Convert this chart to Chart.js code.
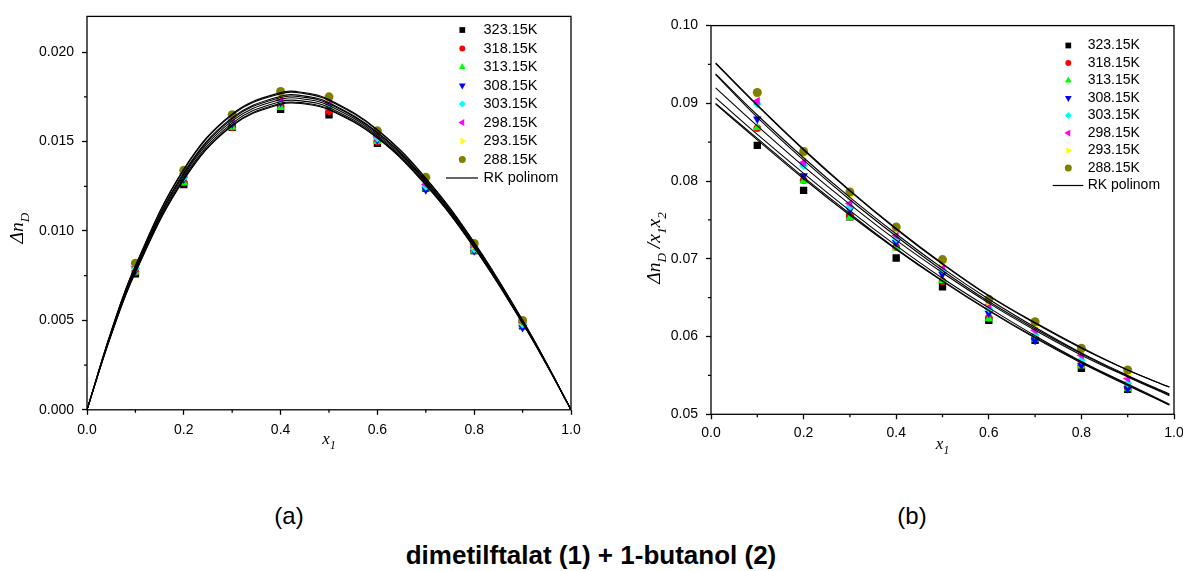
<!DOCTYPE html>
<html>
<head>
<meta charset="utf-8">
<script src="https://cdn.jsdelivr.net/npm/chart.js@4.4.1/dist/chart.umd.min.js"></script>
<style>
  html, body { margin: 0; padding: 0; background: #fff; overflow: hidden; width: 1183px; height: 571px; }
  canvas { position: absolute; top: 0; }
  #chartA { left: 0; }
  #chartB { left: 620px; }
  .lbl { position: absolute; font-family: "Liberation Sans", Arial, sans-serif; font-size: 24px; color: #000; transform: translate(-50%, -50%); white-space: nowrap; }
  #titulo { font-weight: bold; font-size: 26px; }
</style>
</head>
<body>
<canvas id="chartA" width="600" height="460"></canvas>
<canvas id="chartB" width="580" height="460"></canvas>
<div class="lbl" style="left:289px; top:516px;">(a)</div>
<div class="lbl" style="left:912px; top:516px;">(b)</div>
<div class="lbl" id="titulo" style="left:591px; top:555px;">dimetilftalat (1) + 1-butanol (2)</div>
<script>
// temperaturas (legenda)
const TEMPS = ['323.15K', '318.15K', '313.15K', '308.15K', '303.15K', '298.15K', '293.15K', '288.15K'];

// frações molares medidas
const X_OBS = [0.1, 0.2, 0.3, 0.4, 0.5, 0.6, 0.7, 0.8, 0.9];

// (a) Δn_D medido
const DN_OBS = [
  [0.0076, 0.0126, 0.0158, 0.0168, 0.0165, 0.0149, 0.0124, 0.0089, 0.0047],
  [0.0077, 0.0127, 0.0158, 0.0170, 0.0167, 0.0150, 0.0125, 0.0089, 0.0048],
  [0.0077, 0.0127, 0.0158, 0.0169, 0.0169, 0.0150, 0.0124, 0.0089, 0.0047],
  [0.0078, 0.0129, 0.0160, 0.0172, 0.0170, 0.0151, 0.0123, 0.0089, 0.0046],
  [0.0079, 0.0130, 0.0161, 0.0173, 0.0171, 0.0152, 0.0125, 0.0090, 0.0048],
  [0.0080, 0.0132, 0.0162, 0.0174, 0.0172, 0.0153, 0.0126, 0.0091, 0.0049],
  [0.0081, 0.0133, 0.0164, 0.0176, 0.0174, 0.0155, 0.0129, 0.0092, 0.0050],
  [0.0082, 0.0134, 0.0165, 0.0178, 0.0175, 0.0156, 0.0130, 0.0093, 0.0050]
];

// (a) curvas RK
const X_FIT_A = [0, 0.05, 0.1, 0.2, 0.3, 0.4, 0.45, 0.5, 0.6, 0.7, 0.8, 0.9, 0.95, 1];
const DN_FIT = [
  [0, 0.00418, 0.00768, 0.01285, 0.01588, 0.01709, 0.01710, 0.01678, 0.01519, 0.01256, 0.00906, 0.00483, 0.00249, 0],
  [0, 0.00419, 0.00771, 0.01290, 0.01593, 0.01714, 0.01715, 0.01682, 0.01523, 0.01259, 0.00908, 0.00485, 0.00250, 0],
  [0, 0.00423, 0.00777, 0.01299, 0.01603, 0.01724, 0.01725, 0.01691, 0.01530, 0.01265, 0.00913, 0.00487, 0.00251, 0],
  [0, 0.00427, 0.00784, 0.01310, 0.01616, 0.01736, 0.01737, 0.01702, 0.01539, 0.01273, 0.00918, 0.00491, 0.00253, 0],
  [0, 0.00431, 0.00791, 0.01320, 0.01627, 0.01746, 0.01747, 0.01711, 0.01547, 0.01279, 0.00923, 0.00494, 0.00255, 0],
  [0, 0.00433, 0.00795, 0.01327, 0.01634, 0.01754, 0.01754, 0.01717, 0.01552, 0.01283, 0.00927, 0.00496, 0.00256, 0],
  [0, 0.00438, 0.00804, 0.01341, 0.01649, 0.01768, 0.01768, 0.01730, 0.01563, 0.01293, 0.00934, 0.00500, 0.00258, 0],
  [0, 0.00440, 0.00807, 0.01346, 0.01655, 0.01774, 0.01773, 0.01735, 0.01567, 0.01296, 0.00936, 0.00501, 0.00259, 0]
];

// (b) Δn_D / x1x2 medido
const RED_OBS = [
  [0.0846, 0.0788, 0.0754, 0.0701, 0.0664, 0.0621, 0.0595, 0.0559, 0.0532],
  [0.0868, 0.0801, 0.0755, 0.0715, 0.0671, 0.0624, 0.0597, 0.0563, 0.0534],
  [0.0869, 0.0800, 0.0753, 0.0714, 0.0672, 0.0623, 0.0597, 0.0562, 0.0533],
  [0.0880, 0.0807, 0.0763, 0.0721, 0.0680, 0.0630, 0.0595, 0.0563, 0.0533],
  [0.0899, 0.0820, 0.0767, 0.0726, 0.0686, 0.0636, 0.0602, 0.0570, 0.0540],
  [0.0903, 0.0824, 0.0771, 0.0730, 0.0691, 0.0641, 0.0608, 0.0576, 0.0546],
  [0.0912, 0.0834, 0.0781, 0.0737, 0.0695, 0.0645, 0.0614, 0.0582, 0.0552],
  [0.0914, 0.0838, 0.0786, 0.0741, 0.0699, 0.0648, 0.0619, 0.0585, 0.0557]
];

// (b) curvas RK
const X_FIT_B = [0.01, 0.1, 0.2, 0.3, 0.4, 0.5, 0.6, 0.7, 0.8, 0.9, 0.99];
const RED_FIT = [
  [0.0899, 0.0853, 0.0803, 0.0756, 0.0712, 0.0671, 0.0633, 0.0598, 0.0566, 0.0537, 0.0512],
  [0.0900, 0.0855, 0.0805, 0.0758, 0.0713, 0.0672, 0.0634, 0.0599, 0.0567, 0.0538, 0.0512],
  [0.0907, 0.0860, 0.0810, 0.0762, 0.0717, 0.0675, 0.0637, 0.0601, 0.0568, 0.0539, 0.0513],
  [0.0920, 0.0871, 0.0819, 0.0770, 0.0724, 0.0682, 0.0643, 0.0608, 0.0576, 0.0548, 0.0524],
  [0.0937, 0.0882, 0.0827, 0.0776, 0.0729, 0.0685, 0.0645, 0.0610, 0.0578, 0.0549, 0.0525],
  [0.0938, 0.0885, 0.0830, 0.0779, 0.0732, 0.0688, 0.0648, 0.0612, 0.0579, 0.0550, 0.0526],
  [0.0951, 0.0897, 0.0840, 0.0787, 0.0738, 0.0693, 0.0652, 0.0617, 0.0585, 0.0557, 0.0535],
  [0.0952, 0.0898, 0.0841, 0.0788, 0.0739, 0.0694, 0.0653, 0.0618, 0.0586, 0.0557, 0.0535]
];

// estilos dos marcadores
const CORES = ['#000000', '#ff0000', '#00ff00', '#0000ff', '#00ffff', '#ff00ff', '#ffff00', '#808000'];
const FORMAS = ['rect', 'circle', 'triangle', 'triangle', 'rectRot', 'triangle', 'triangle', 'circle'];
const ROTACOES = [0, 0, 0, 180, 0, 270, 90, 0];
const RAIOS = [5.2, 3.8, 5, 5, 4.5, 5, 5, 4.5];

const FONTE = '"Liberation Sans", Arial, sans-serif';
const SERIF = '"Liberation Serif", "Times New Roman", serif';

function tipoTick(v, passo) {
  const k = Math.round(v / passo);
  if (Math.abs(v - k * passo) > passo * 1e-6) return 'nada';
  return k % 2 === 0 ? 'maior' : 'menor';
}

function eixo(min, max, passo, casas, tam, pad, fitFn) {
  return {
    type: 'linear', min: min, max: max,
    border: { display: false },
    grid: {
      drawOnChartArea: false, tickLength: 5, tickWidth: 1.3,
      tickColor: c => (c.tick && tipoTick(c.tick.value, passo) === 'maior') ? '#000' : 'rgba(0,0,0,0)'
    },
    ticks: {
      stepSize: passo, autoSkip: false, maxRotation: 0, minRotation: 0, padding: pad,
      color: '#000', font: { family: FONTE, size: tam },
      callback: v => tipoTick(v, passo) === 'maior' ? v.toFixed(casas) : ''
    },
    afterFit: fitFn
  };
}

function textoRico(ctx, partes, tam) {
  let w = 0;
  partes.forEach(p => {
    ctx.font = 'italic ' + (p[1] ? tam * 0.68 : tam) + 'px ' + SERIF;
    w += ctx.measureText(p[0]).width;
  });
  return w;
}

function desenhaRico(ctx, partes, tam, cx, base, rot) {
  ctx.save();
  ctx.translate(cx, base);
  if (rot) ctx.rotate(-Math.PI / 2);
  let x = -textoRico(ctx, partes, tam) / 2;
  ctx.fillStyle = '#000';
  ctx.textBaseline = 'alphabetic';
  ctx.textAlign = 'left';
  partes.forEach(p => {
    const t = p[1] ? tam * 0.68 : tam;
    ctx.font = 'italic ' + t + 'px ' + SERIF;
    ctx.fillText(p[0], x, p[1] ? tam * 0.32 : 0);
    x += ctx.measureText(p[0]).width;
  });
  ctx.restore();
}

// moldura, ticks menores, legenda e títulos dos eixos
const decor = {
  id: 'decor',
  afterDraw(chart, args, o) {
    const ctx = chart.ctx, a = chart.chartArea;
    const xs = chart.scales.x, ys = chart.scales.y;
    ctx.save();
    ctx.strokeStyle = '#000';
    ctx.lineWidth = 1.3;
    ctx.strokeRect(a.left, a.top, a.right - a.left, a.bottom - a.top);
    ctx.beginPath();
    xs.ticks.forEach(t => {
      if (tipoTick(t.value, o.passoX) !== 'menor') return;
      const px = xs.getPixelForValue(t.value);
      ctx.moveTo(px, a.bottom); ctx.lineTo(px, a.bottom + 3);
    });
    ys.ticks.forEach(t => {
      if (tipoTick(t.value, o.passoY) !== 'menor') return;
      const py = ys.getPixelForValue(t.value);
      ctx.moveTo(a.left, py); ctx.lineTo(a.left - 3, py);
    });
    ctx.stroke();

    // legenda
    const L = o.legenda;
    ctx.font = L.fonte + 'px ' + FONTE;
    ctx.textBaseline = 'middle';
    ctx.textAlign = 'left';
    TEMPS.forEach((nome, i) => {
      const y = L.y0 + i * L.dy;
      ctx.fillStyle = CORES[i];
      Chart.helpers.drawPoint(ctx, { pointStyle: FORMAS[i], rotation: ROTACOES[i], radius: RAIOS[i] * 0.78, borderWidth: 0 }, L.mx, y);
      ctx.fillStyle = '#000';
      ctx.fillText(nome, L.tx, y);
    });
    const yl = L.y0 + TEMPS.length * L.dy;
    ctx.beginPath();
    ctx.lineWidth = 1.2;
    ctx.moveTo(L.l0, yl); ctx.lineTo(L.l1, yl);
    ctx.stroke();
    ctx.fillText('RK polinom', L.tx, yl);
    ctx.restore();

    o.titulos.forEach(t => desenhaRico(ctx, t.partes, t.tam, t.x, t.y, t.rot));
  }
};

function montaDatasets(xObs, obs, xFit, fit) {
  const ds = [];
  obs.forEach((serie, i) => {
    ds.push({
      label: TEMPS[i],
      data: xObs.map((x, j) => ({ x: x, y: serie[j] })),
      pointStyle: FORMAS[i], rotation: ROTACOES[i], pointRadius: RAIOS[i],
      backgroundColor: CORES[i], borderColor: CORES[i], borderWidth: 0,
      showLine: false, order: 8 - i + 1
    });
  });
  fit.forEach((serie, i) => {
    ds.push({
      label: 'RK ' + TEMPS[i],
      data: xFit.map((x, j) => ({ x: x, y: serie[j] })),
      showLine: true, pointRadius: 0, borderColor: '#000', borderWidth: 1.1,
      tension: 0.4, fill: false, order: 0
    });
  });
  return ds;
}

const base = {
  responsive: false, animation: false, devicePixelRatio: 1,
  events: []
};

new Chart(document.getElementById('chartA'), {
  type: 'scatter',
  data: { datasets: montaDatasets(X_OBS, DN_OBS, X_FIT_A, DN_FIT) },
  options: Object.assign({}, base, {
    layout: { padding: { left: 0, right: 29, top: 11.6, bottom: 0 } },
    scales: {
      x: eixo(0, 1, 0.1, 1, 14, 7, s => { s.height = 50.2; }),
      y: eixo(0, 0.022, 0.0025, 3, 14, 8, s => { s.width = 87; })
    },
    plugins: {
      legend: { display: false }, tooltip: { enabled: false },
      decor: {
        passoX: 0.1, passoY: 0.0025,
        legenda: { mx: 462.3, tx: 483.5, y0: 30, dy: 18.5, l0: 446, l1: 478, fonte: 14.5 },
        titulos: [
          { partes: [['x', 0], ['1', 1]], tam: 17, x: 329, y: 444, rot: false },
          { partes: [['Δn', 0], ['D', 1]], tam: 19.5, x: 23, y: 228, rot: true }
        ]
      }
    }
  }),
  plugins: [decor]
});

new Chart(document.getElementById('chartB'), {
  type: 'scatter',
  data: { datasets: montaDatasets(X_OBS, RED_OBS, X_FIT_B, RED_FIT) },
  options: Object.assign({}, base, {
    layout: { padding: { left: 0, right: 26, top: 25.6, bottom: 0 } },
    scales: {
      x: eixo(0, 1, 0.1, 1, 14, 5, s => { s.height = 45.7; }),
      y: eixo(0.05, 0.10, 0.005, 2, 14, 8, s => { s.width = 91; })
    },
    plugins: {
      legend: { display: false }, tooltip: { enabled: false },
      decor: {
        passoX: 0.1, passoY: 0.005,
        legenda: { mx: 448.3, tx: 467.7, y0: 45.5, dy: 17.5, l0: 432.7, l1: 463.3, fonte: 14 },
        titulos: [
          { partes: [['x', 0], ['1', 1]], tam: 17, x: 322.5, y: 449, rot: false },
          { partes: [['Δn', 0], ['D', 1], [' /x', 0], ['1', 1], ['x', 0], ['2', 1]], tam: 19.5, x: 40, y: 248, rot: true }
        ]
      }
    }
  }),
  plugins: [decor]
});
</script>
</body>
</html>
